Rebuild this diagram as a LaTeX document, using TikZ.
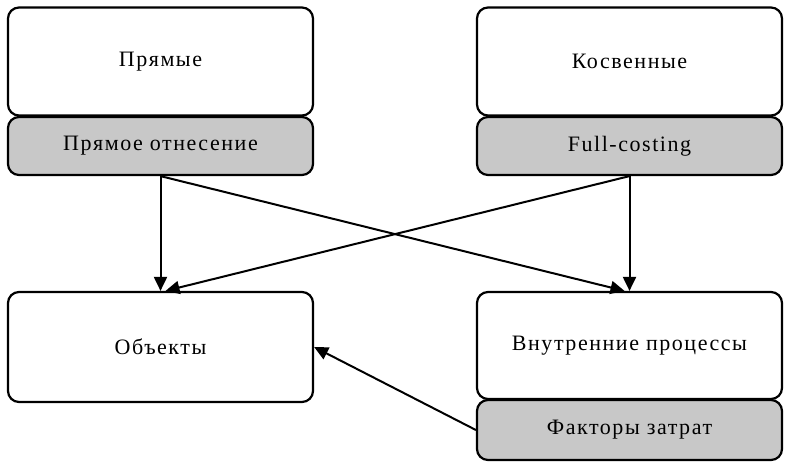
\documentclass[tikz,border=0pt]{standalone}
\usepackage{fontspec}
\setmainfont{Liberation Serif}[LetterSpace=7]
\usetikzlibrary{arrows.meta,calc}
\definecolor{boxgray}{RGB}{200,200,200}
\tikzset{
  whitebox/.style={draw=black, line width=2.2pt, rounded corners=11pt, fill=white,
    minimum width=305pt, inner sep=0pt, font=\fontsize{22}{26}\selectfont},
  graybox/.style={whitebox, fill=boxgray},
  arr/.style={line width=2pt, -{Triangle[length=14pt,width=13pt]}}
}
\begin{document}
\begin{tikzpicture}[x=1pt,y=-1pt]
\useasboundingbox (0,0) rectangle (792,467);
% top left
\node[whitebox, minimum height=108pt] (pr) at (160.5,61.5) {Прямые};
\node[graybox, minimum height=58pt] (po) at (160.5,146) {Прямое отнесение};
% top right
\node[whitebox, minimum height=108pt] (ko) at (629.5,61.5) {Косвенные};
\node[graybox, minimum height=58pt] (fc) at (629.5,146) {Full-costing};
% bottom left
\node[whitebox, minimum height=110pt] (ob) at (160.5,347) {Объекты};
% bottom right
\node[whitebox, minimum height=107pt] (vp) at (629.5,345.5) {Внутренние процессы};
\node[graybox, minimum height=60pt] (fz) at (629.5,430) {Факторы затрат};
% arrows
\draw[arr] (po.south) -- (ob.north);
\draw[arr] (fc.south) -- (vp.north);
\draw[arr] (po.south) -- ($(vp.north)+(-5,0)$);
\draw[arr] (fc.south) -- ($(ob.north)+(5,0)$);
\draw[arr] (fz.west) -- (ob.east);
\end{tikzpicture}
\end{document}
